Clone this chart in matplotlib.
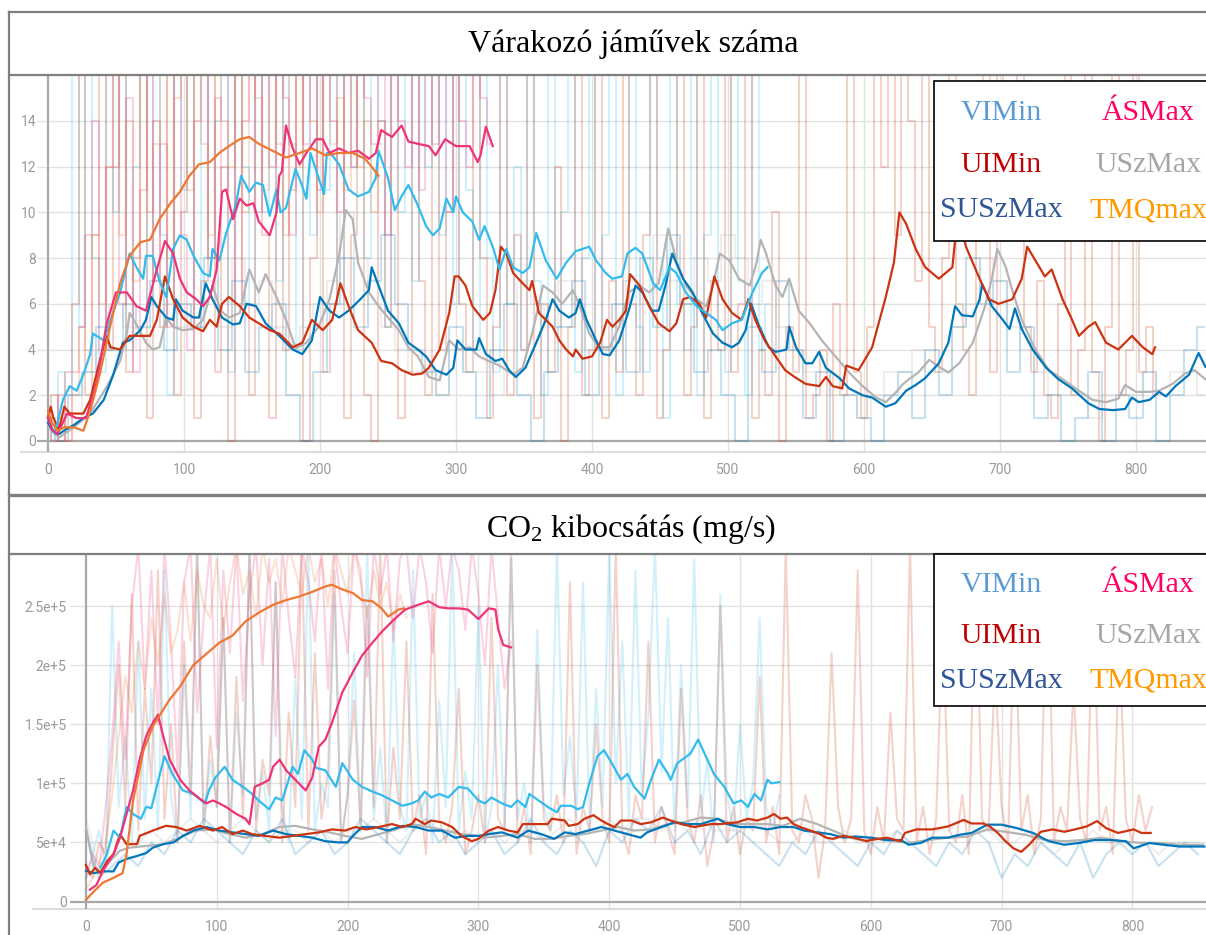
"""
Két TensorBoard-szerű panel: várakozó járművek száma és CO2 kibocsátás.
"""
import numpy as np
import matplotlib
matplotlib.use("Agg")
from matplotlib import pyplot as plt
from matplotlib.lines import Line2D
from matplotlib.patches import Rectangle

plt.rcParams['mathtext.fontset'] = 'custom'
plt.rcParams['mathtext.rm'] = 'Liberation Serif'
plt.rcParams['mathtext.it'] = 'Liberation Serif:italic'

##----------------------------------------- ADATOK -----------------------------------------##
names = ['VIMin', 'UIMin', 'SUSzMax', 'ÁSMax', 'USzMax', 'TMQmax']
legend_colors = ['#5b9bd5', '#c00000', '#2f5597', '#ff0066', '#a6a6a6', '#ff9900']
line_colors = ['#33bbee', '#cc3311', '#0077bb', '#ee3377', '#b4b4b4', '#ee7733']
titles = ['Várakozó jáművek száma', r'CO$_2$ kibocsátás (mg/s)']

x_ticks = [0, 100, 200, 300, 400, 500, 600, 700, 800]
top_yticks = [0, 2, 4, 6, 8, 10, 12, 14]
bot_yticks = [0, 5e4, 1e5, 1.5e5, 2e5, 2.5e5]
bot_ylabels = ['0', '5e+4', '1e+5', '1.5e+5', '2e+5', '2.5e+5']
CO2_UNIT = 1e4   # az alsó panel értékei 1e4 egységben

# simított görbék (lépés, érték) - felső panel
top_vi = [(0,1.0),(5,0.3),(11,1.8),(16,2.4),(21,2.2),(26,2.9),(31,3.8),(33,4.7),(41,4.4),(46,5.3),
          (53,6.5),(60,8.2),(65,7.6),(70,7.1),(72,8.1),(77,8.1),(82,7.0),(87,6.3),(92,8.4),(97,9.0),
          (102,8.8),(107,8.1),(114,7.35),(119,7.2),(121,8.4),(126,7.9),(131,9.1),(138,10.3),(142,11.6),(148,10.9),
          (153,11.3),(158,11.2),(163,9.85),(168,11.0),(171,10.0),(175,10.2),(182,11.9),(186,11.3),(190,10.6),(193,12.6),
          (199,11.5),(203,10.8),(205,12.6),(209,12.5),(214,12.1),(221,11.0),(228,10.7),(236,10.9),(241,11.5),(243,12.7),
          (250,11.5),(255,10.1),(260,10.7),(265,11.2),(272,10.3),(278,9.4),(283,9.0),(288,9.3),(293,10.6),(298,10.0),
          (300,10.7),(305,10.0),(312,9.6),(317,8.8),(321,9.4),(327,8.5),(332,7.5),(337,8.4),(342,7.6),(349,7.35),
          (354,7.6),(359,9.1),(366,7.9),(374,7.1),(381,7.8),(388,8.3),(398,8.5),(403,7.9),(410,7.35),(415,7.1),
          (422,7.2),(426,8.2),(432,8.45),(437,8.2),(445,6.9),(450,6.6),(457,7.6),(462,7.35),(469,6.5),(477,5.9),
          (484,5.6),(491,5.3),(496,4.85),(503,5.15),(510,5.3),(518,6.5),(525,7.35),(529,7.6)]
top_ui = [(0,1.0),(2,1.5),(4,1.0),(8,0.5),(12,1.5),(16,1.2),(26,1.2),(31,1.8),(38,3.5),(43,4.6),
          (46,4.1),(53,4.0),(60,4.6),(65,4.6),(75,4.6),(80,5.3),(86,7.2),(92,6.2),(99,5.4),(107,5.0),
          (114,4.8),(119,5.3),(124,5.0),(128,6.0),(133,6.3),(141,5.9),(148,5.4),(155,5.15),(163,4.85),(170,4.7),
          (180,4.1),(187,4.3),(194,5.3),(202,4.85),(209,5.3),(215,6.9),(221,5.9),(228,4.85),(238,4.3),(245,3.5),
          (253,3.4),(260,3.1),(268,2.9),(275,2.95),(280,3.2),(288,4.0),(295,5.6),(299,7.2),(302,7.2),(307,6.8),
          (312,5.9),(320,5.3),(325,5.6),(329,6.6),(333,8.5),(337,8.2),(342,7.35),(349,6.9),(354,6.6),(356,7.0),
          (361,5.6),(366,5.3),(371,5.0),(376,4.4),(381,4.0),(386,3.7),(388,4.0),(393,3.6),(400,3.7),(406,4.3),
          (411,5.3),(415,5.0),(420,5.3),(425,5.7),(428,7.3),(435,6.8),(442,5.9),(449,5.15),(457,4.8),(462,5.15),
          (467,6.2),(472,6.3),(479,6.0),(484,5.4),(490,7.2),(496,6.2),(503,5.6),(510,5.3),(515,6.2),(520,5.3),
          (527,4.4),(535,3.7),(542,3.1),(549,2.8),(557,2.5),(567,2.4),(572,2.8),(577,2.4),(584,2.3),(587,3.3),
          (596,3.1),(606,4.1),(616,6.3),(622,7.8),(626,10.0),(631,9.5),(638,8.4),(645,7.6),(655,7.1),(665,7.6),
          (667,8.8),(670,9.7),(675,8.5),(685,7.1),(692,6.2),(699,6.0),(709,6.2),(716,7.1),(720,8.5),(726,7.9),
          (733,7.2),(738,7.5),(746,6.2),(753,5.3),(758,4.6),(765,5.0),(770,5.2),(778,4.3),(787,4.0),(797,4.6),
          (805,4.1),(812,3.8),(814,4.1)]
top_su = [(0,0.8),(4,0.4),(8,0.3),(13,0.5),(19,0.7),(26,1.0),(33,1.2),(41,1.8),(48,2.9),(55,4.3),
          (60,4.4),(68,4.85),(72,5.3),(76,6.3),(80,5.9),(87,5.4),(92,5.3),(94,6.2),(99,5.7),(107,5.4),
          (111,5.4),(116,6.9),(121,6.2),(128,5.4),(136,5.1),(141,5.15),(146,6.0),(153,5.9),(160,5.15),(170,4.6),
          (180,4.0),(187,3.8),(194,4.4),(200,6.3),(207,5.7),(214,5.4),(221,5.7),(228,6.1),(236,6.6),(238,7.6),
          (243,6.8),(250,5.7),(258,5.15),(265,4.3),(272,4.0),(278,3.7),(285,3.1),(293,2.9),(298,3.2),(301,4.4),
          (307,4.0),(315,4.0),(317,4.5),(322,3.8),(329,3.5),(334,3.6),(339,3.1),(344,2.8),(351,3.2),(359,4.3),
          (366,5.3),(371,6.2),(376,5.7),(383,5.4),(388,5.6),(391,6.2),(396,5.3),(403,4.4),(408,3.8),(413,3.75),
          (420,4.4),(427,5.7),(432,6.8),(437,6.5),(444,5.7),(449,5.7),(454,6.8),(459,8.2),(467,7.1),(474,6.5),
          (481,5.6),(489,4.7),(496,4.3),(503,4.1),(508,4.3),(513,4.85),(517,6.0),(523,5.0),(530,4.1),(535,3.9),
          (543,4.0),(545,5.0),(550,4.1),(557,3.4),(562,3.4),(567,3.9),(572,3.2),(582,2.75),(589,2.3),(599,2.0),
          (606,1.9),(616,1.5),(623,1.65),(631,2.2),(638,2.45),(645,2.75),(655,3.4),(662,4.3),(667,5.9),(672,5.5),
          (680,5.45),(685,6.2),(687,6.85),(694,5.9),(702,5.3),(707,4.9),(711,5.8),(716,4.9),(724,4.0),(734,3.2),
          (743,2.7),(753,2.3),(765,1.65),(773,1.4),(783,1.35),(792,1.4),(797,1.9),(802,1.7),(810,1.8),(817,2.15),
          (822,1.95),(829,2.4),(839,2.9),(846,3.85),(851,3.25)]
top_as = [(0,1.0),(3,0.5),(7,0.3),(14,1.2),(21,1.0),(28,1.0),(36,2.6),(43,5.1),(50,6.5),(58,6.5),
          (65,5.9),(72,5.7),(80,7.5),(86,8.75),(92,8.2),(97,7.1),(102,6.5),(109,6.2),(114,5.9),(119,6.3),
          (124,7.5),(128,10.9),(131,11.0),(136,9.7),(141,10.6),(146,10.3),(151,10.4),(155,9.6),(163,9.0),(168,10.0),
          (170,11.6),(172,11.8),(175,13.8),(180,12.8),(185,12.1),(190,12.6),(197,13.2),(202,13.2),(207,12.6),(214,12.8),
          (221,12.6),(228,12.7),(236,12.35),(241,12.6),(245,13.6),(253,13.3),(260,13.8),(265,13.1),(272,13.0),(280,12.9),
          (285,12.5),(292,13.2),(300,12.9),(310,12.9),(316,12.2),(318,12.5),(322,13.75),(327,12.9)]
top_us = [(0,0.6),(4,0.4),(8,0.15),(19,0.6),(31,1.2),(43,2.35),(53,3.5),(58,4.7),(60,5.6),(65,5.1),
          (72,4.3),(77,4.0),(82,4.1),(87,5.4),(92,5.0),(99,4.85),(107,4.9),(114,5.3),(121,6.8),(127,5.7),
          (133,5.4),(141,5.6),(148,7.5),(155,6.5),(160,7.3),(168,6.3),(175,5.3),(182,4.05),(190,4.3),(199,5.0),
          (207,6.2),(214,8.1),(219,10.1),(224,9.7),(228,7.8),(236,6.5),(243,5.9),(250,5.4),(258,4.85),(265,4.1),
          (272,3.7),(280,2.8),(288,2.65),(295,4.4),(302,4.0),(310,4.1),(317,3.7),(324,3.5),(332,3.3),(342,2.9),
          (349,3.2),(356,4.7),(364,6.8),(371,6.5),(378,6.0),(386,6.6),(391,5.9),(398,4.7),(405,4.1),(413,4.1),
          (420,5.0),(427,6.5),(435,6.8),(442,6.5),(449,6.9),(456,9.3),(462,7.9),(469,6.8),(477,6.2),(484,5.9),
          (489,6.8),(494,8.2),(501,7.9),(508,7.1),(516,6.8),(521,7.8),(524,8.8),(528,8.2),(535,6.8),(540,6.3),
          (545,7.1),(552,5.7),(560,5.15),(569,4.4),(579,3.7),(589,3.0),(599,2.4),(609,1.9),(616,1.7),(623,2.1),
          (628,2.45),(633,2.7),(640,3.0),(648,3.55),(655,3.25),(662,3.0),(670,3.4),(680,4.3),(689,5.9),(694,7.1),
          (698,8.4),(704,7.65),(709,6.6),(716,5.3),(726,4.0),(736,3.1),(746,2.7),(758,2.2),(768,1.8),(778,1.7),
          (787,1.85),(792,2.45),(800,2.15),(810,2.15),(817,2.2),(827,2.5),(836,2.95),(843,3.1),(851,2.7)]
top_tmq = [(0,1.3),(3,0.8),(7,0.45),(12,0.6),(19,0.6),(26,0.45),(31,1.3),(38,2.9),(46,5.1),(53,6.9),
           (60,8.1),(68,8.7),(75,8.8),(82,9.7),(90,10.4),(97,10.9),(104,11.6),(111,12.1),(119,12.2),(126,12.6),
           (133,12.9),(141,13.2),(148,13.3),(155,13.0),(165,12.7),(175,12.4),(185,12.6),(194,12.8),(204,12.5),(214,12.6),
           (224,12.6),(233,12.35),(238,12.0),(243,11.6)]

# simított görbék - alsó panel (1e4 mg/s)
bot_vi = [(11,2.85),(16,4.0),(21,6.0),(26,5.4),(31,8.0),(36,7.4),(42,7.0),(46,8.0),(50,7.9),(54,9.7),
          (60,12.3),(66,10.8),(74,9.4),(82,9.1),(91,8.3),(94,9.4),(99,10.5),(106,11.4),(112,10.3),(120,9.7),
          (127,9.1),(132,8.55),(140,7.8),(145,8.8),(150,8.55),(158,11.4),(162,10.8),(167,12.8),(173,12.0),(176,11.3),
          (183,11.1),(191,9.7),(196,11.7),(204,10.3),(211,9.7),(219,9.3),(226,9.0),(234,8.55),(242,8.1),(249,8.3),
          (254,8.55),(259,9.3),(264,8.8),(270,9.1),(277,8.8),(285,9.7),(292,9.55),(300,8.55),(305,8.3),(310,8.8),
          (318,8.3),(325,8.0),(330,8.55),(336,8.0),(339,9.1),(346,8.55),(353,8.0),(360,7.55),(363,8.1),(371,8.1),
          (376,7.8),(380,8.0),(384,9.7),(391,12.3),(396,12.8),(402,11.7),(409,10.3),(414,10.8),(419,9.7),(427,8.7),
          (432,10.3),(438,12.0),(445,10.8),(447,10.3),(452,11.7),(457,12.1),(462,12.5),(468,13.7),(473,12.5),(480,10.8),
          (488,9.7),(495,8.3),(501,8.55),(506,8.0),(511,9.1),(516,8.55),(521,10.3),(524,10.0),(530,10.1)]
bot_ui = [(0,3.1),(3,2.3),(7,2.85),(11,2.4),(16,3.4),(21,4.0),(26,5.7),(31,4.85),(39,4.85),(41,5.55),
          (51,6.0),(61,6.4),(69,6.3),(77,6.0),(87,6.4),(97,6.0),(104,6.3),(112,5.7),(120,6.0),(127,5.7),
          (137,5.55),(148,5.4),(158,5.55),(168,5.7),(178,5.85),(188,6.1),(198,6.0),(206,6.3),(214,6.1),(224,6.3),
          (234,6.55),(242,6.3),(249,6.55),(252,7.0),(259,6.55),(264,6.85),(272,6.7),(280,6.3),(287,5.55),(295,5.1),
          (300,5.3),(308,6.0),(315,6.3),(323,6.0),(330,5.85),(334,6.55),(353,6.55),(356,7.0),(366,6.85),(369,6.4),
          (376,6.55),(381,7.0),(388,7.3),(394,6.85),(399,6.55),(404,6.3),(409,6.85),(417,6.85),(424,6.55),(432,6.7),
          (441,7.1),(447,6.85),(455,6.55),(465,6.3),(470,6.4),(478,6.55),(485,6.55),(498,6.7),(506,7.0),(513,6.85),
          (521,7.1),(526,7.4),(531,7.0),(536,7.1),(541,6.55),(546,6.3),(554,6.0),(561,5.7),(566,5.4),(571,5.3),
          (579,5.55),(587,5.4),(597,5.1),(600,5.2),(612,5.4),(623,5.1),(626,5.8),(635,6.1),(647,6.1),(659,6.35),
          (671,6.9),(677,6.6),(686,6.6),(691,6.35),(697,5.8),(703,5.1),(709,4.5),(715,4.2),(721,4.8),(730,5.9),
          (739,6.1),(748,5.9),(756,6.1),(765,6.35),(773,6.8),(780,6.2),(789,5.8),(801,6.1),(807,5.8),(814,5.8)]
bot_su = [(0,2.6),(6,2.4),(13,2.55),(21,2.55),(25,3.3),(31,3.6),(39,3.85),(46,4.1),(51,4.55),(59,4.85),
          (67,5.0),(74,5.55),(82,6.0),(92,6.3),(102,6.0),(112,5.85),(122,5.7),(132,5.55),(143,6.0),(153,5.7),
          (163,5.55),(173,5.4),(183,5.1),(193,5.0),(200,5.0),(204,5.55),(211,6.3),(221,6.3),(231,6.0),(242,6.4),
          (252,6.3),(262,6.0),(272,6.0),(282,5.4),(292,5.55),(300,5.55),(308,5.7),(318,5.85),(330,5.4),(338,6.0),
          (348,5.7),(358,5.3),(366,5.85),(374,5.7),(384,6.0),(394,6.3),(404,6.0),(414,5.7),(424,5.4),(429,5.85),
          (440,6.3),(450,6.7),(460,6.55),(470,6.55),(483,7.0),(490,6.55),(500,6.3),(511,6.3),(521,6.1),(531,6.3),
          (541,6.3),(549,6.0),(559,5.85),(569,5.7),(579,5.4),(588,5.5),(600,5.4),(612,5.2),(623,5.2),(629,4.8),
          (638,4.95),(647,5.4),(659,5.4),(668,5.65),(677,5.8),(689,6.5),(700,6.5),(712,6.2),(724,5.8),(736,5.1),
          (748,4.8),(759,4.95),(771,5.2),(783,5.2),(795,5.1),(801,4.5),(813,4.95),(824,4.8),(836,4.65),(848,4.65),
          (855,4.65)]
bot_as = [(3,1.0),(8,1.4),(13,2.6),(21,4.0),(26,5.4),(31,7.4),(36,9.4),(41,12.0),(46,14.0),(51,15.1),
          (55,15.8),(59,14.0),(64,12.0),(72,10.3),(79,9.4),(87,8.7),(92,8.3),(97,8.55),(102,8.3),(107,8.0),
          (115,7.4),(122,7.0),(125,6.55),(129,9.7),(135,10.0),(140,10.3),(143,11.4),(148,12.0),(153,11.1),(160,10.3),
          (168,9.4),(173,10.5),(178,13.1),(183,13.7),(188,15.1),(196,17.7),(204,19.4),(211,20.8),(219,21.9),(226,22.8),
          (234,23.7),(244,24.7),(254,25.1),(262,25.4),(270,24.9),(277,24.8),(285,24.8),(292,24.7),(300,23.9),(308,24.8),
          (313,24.7),(315,23.1),(319,21.7),(325,21.5)]
bot_us = [(0,6.3),(3,4.5),(6,2.85),(11,2.55),(18,3.4),(26,4.3),(33,4.55),(46,4.7),(59,4.85),(72,5.4),
          (84,6.0),(97,6.1),(110,5.7),(122,5.4),(135,5.7),(148,6.3),(160,6.4),(173,6.1),(186,5.85),(198,5.55),
          (211,5.3),(224,5.7),(237,6.1),(249,6.55),(262,6.3),(275,6.0),(287,5.7),(300,5.55),(305,5.4),(318,5.55),
          (330,5.7),(343,5.3),(356,5.3),(369,5.55),(381,5.7),(394,6.0),(407,6.3),(419,6.0),(432,6.1),(445,6.55),
          (457,6.7),(470,7.1),(483,7.0),(495,6.55),(508,6.55),(521,6.55),(533,6.4),(546,7.0),(559,6.55),(571,6.0),
          (584,5.4),(597,5.1),(600,5.4),(617,5.1),(629,4.95),(644,5.2),(659,5.4),(674,5.5),(689,6.1),(703,5.9),
          (718,5.65),(733,5.2),(748,5.1),(762,5.2),(777,5.4),(792,5.1),(807,4.95),(822,4.95),(836,4.8),(854,4.8)]
bot_tmq = [(0,0.15),(6,0.85),(13,1.6),(21,2.0),(28,2.4),(31,4.0),(36,8.55),(44,12.8),(51,14.8),(56,15.7),
           (64,17.1),(72,18.2),(82,20.0),(92,20.95),(102,21.9),(112,22.5),(122,23.7),(133,24.5),(143,25.1),(153,25.5),
           (163,25.8),(173,26.2),(183,26.65),(188,26.8),(196,26.4),(204,26.1),(211,25.5),(219,25.4),(226,24.8),(231,24.1),
           (239,24.7),(243,24.8)]

# nyers (simítatlan) értékek, RAW_STEP lépésközzel 0-tól
RAW_STEP = 5
RAW_STEP_WIDE = 10
top_vi_raw = [1,0,3,2,16,5,16,8,3,16,10,16,4,12,16,6,16,9,2,16,
              11,16,5,16,8,14,16,3,16,12,6,16,10,16,7,16,13,4,16,9,
              16,11,16,6,16,12,16,8,16,14,5,16,10,16,7,16,12,16,9,16,
              6,16,11,4,16,8,3,16,6,12,4,16,7,2,16,5,10,16,3,8,
              16,4,9,16,2,7,16,5,3,16,8,1,16,6,4,16,2,9,16,5,
              3,16,7,2,16,4,6]
top_ui_raw = [1,2,0,3,6,16,2,9,16,4,12,16,3,8,16,1,14,5,16,2,
              10,16,1,7,16,3,12,0,16,6,2,16,9,1,16,4,11,16,0,8,
              16,3,6,16,1,9,16,2,0,14,5,16,1,3,16,7,2,16,4,10,
              16,6,3,16,8,1,5,16,2,9,4,16,1,6,3,12,0,5,16,2,
              4,16,1,7,3,16,6,2,9,16,1,4,8,16,2,5,16,1,7,4,
              16,3,6,16,1,4,2,10,0,5,3,16,1,2,4,0,6,2,16,3,
              1,5,16,12,16,9,16,14,7,16,5,3,8,16,6,4,2,10,16,3,
              16,12,9,16,5,3,7,2,1,6,16,2,4,16,3,0,5,16,2,4,
              16,3,5,2]
top_as_raw = [1,0,2,0,3,5,9,14,4,12,16,6,15,3,11,16,7,13,5,16,
              9,4,14,16,8,15,11,16,6,14,16,10,16,12,16,15,9,16,13,16,
              11,16,14,10,16,12,16,15,13,16,9,16,14,12,16,11,16,13,16,10,
              16,14,12,16,15,13]
top_tmq_raw = [1,0,1,0,2,5,4,9,6,12,16,9,14,7,16,10,13,16,8,15,
               16,11,16,13,9,16,14,12,16,10,16,15,11,16,13,9,16,12,16,14,
               10,16,13,15,11,16,12,14,10,13]
top_su_raw = [1,0,2,3,5,4,6,5,7,4,6,5,8,4,7,3,5,6,2,0,
              3,6,8,5,7,9,6,4,3,2,5,3,1,4,6,2,0,3,5,7,
              2,4,6,3,8,5,9,6,3,4,2,0,5,3,7,4,1,3,0,2,
              1,0,2,3,1,4,2,5,8,6,7,3,5,1,2,0,1,3,0,2,
              1,3,0,2,4,5]
top_us_raw = [0,1,1,3,4,6,5,4,5,6,5,6,7,5,8,6,7,5,4,5,
              6,7,10,8,6,5,4,3,3,2,4,3,3,2,4,7,6,5,7,6,
              4,4,5,7,6,9,7,6,8,7,9,8,6,7,5,4,3,3,2,2,
              1,2,3,3,4,3,3,5,6,8,7,5,4,3,2,2,2,1,2,2,
              2,3,2,3,3,2]

bot_vi_raw = [2,4,6,3,25,8,14,5,22,7,18,6,28,9,5,20,7,30,6,12,
              8,24,5,16,9,30,7,11,6,27,8,5,19,7,30,6,10,8,26,5,
              9,21,6,30,7,13,5,24,8,6,28,7,9,5,17,8,30,6,11,7,
              25,5,8,20,6,29,7,10,5,23,8,6,30,9,14,7,27,6,18,8,
              30,10,22,7,28,9,16,30,11,24,6,20,8,29,7,12,5,26,9,6,
              15,7,10,24,8,6,9]
bot_ui_raw = [3,2,5,4,12,20,8,26,6,18,10,28,7,15,5,22,9,30,6,14,
              8,24,5,19,7,30,6,12,9,27,5,16,8,30,6,21,7,11,28,5,
              9,17,6,25,8,30,5,13,7,22,6,9,4,26,7,5,8,18,4,6,
              9,5,24,7,6,30,5,8,4,20,7,6,9,5,27,4,8,6,15,7,
              5,30,6,4,9,7,22,5,8,6,4,18,7,5,9,3,6,25,5,8,
              4,7,6,19,5,8,4,30,6,5,9,7,2,6,21,8,5,7,28,6,
              4,8,5,16,7,6,30,5,8,4,7,24,6,5,9,4,30,7,6,20,
              8,5,26,6,9,4,7,30,5,8,6,18,7,5,27,6,8,4,22,7,
              5,9,6,8]
bot_as_raw = [2,4,3,8,14,22,12,25,30,18,28,15,30,22,11,27,30,16,24,30,
              13,28,21,30,17,26,30,20,29,14,30,24,19,30,27,22,30,18,30,25,
              21,30,28,19,30,26,30,22,29,30,24,30,27,21,30,25,30,28,23,30,
              26,20,30,24,18,22]
bot_tmq_raw = [1,2,3,5,9,14,19,16,22,18,24,20,26,21,23,27,22,28,25,24,
               29,23,27,30,26,28,24,30,27,29,25,30,28,26,30,27,29,25,30,28,
               26,30,27,24,28,25,27,23,26,24]
bot_su_raw = [6,2,3,4,3,5,4,6,5,7,6,5,4,6,5,7,4,5,6,4,
              5,7,6,5,4,6,7,5,6,4,5,6,4,5,7,5,4,6,5,3,
              6,5,7,6,8,5,6,4,7,5,6,5,4,3,5,4,6,5,4,3,
              5,4,6,5,4,3,5,4,6,5,2,4,3,5,4,3,5,2,4,5,
              4,5,3,4,5,4]
bot_us_raw = [7,3,4,5,5,6,5,6,7,6,5,6,7,6,5,6,6,5,6,5,
              6,6,7,6,5,6,7,6,5,6,5,6,5,6,6,5,6,7,6,6,
              7,6,7,7,6,7,6,7,6,6,6,7,6,5,5,6,5,5,6,5,
              5,5,6,5,5,6,6,7,6,6,5,5,6,5,4,5,5,6,5,5,
              5,5,4,5,5,5]
##------------------------------------------------------------------------------------------##

W, H = 1206, 935
fig = plt.figure(figsize=(W / 100, H / 100), dpi=100)

def fx(px):
    return px / W

def fy(py):
    return 1 - py / H

def draw_panel(ax, smooth, raws, steps, scale, xlim, ylim, yticks, ylabels,
               grid_x0, base_y, lab_pad_y, lab_pad_x, raw_style):
    ax.set_xlim(*xlim)
    ax.set_ylim(*ylim)
    for s in ax.spines.values():
        s.set_visible(False)
    # rácsvonalak
    for yv in yticks[1:]:
        ax.hlines(yv, grid_x0, xlim[1], color='#e2e2e2', lw=1.0, zorder=0.5)
    for xv in x_ticks[1:]:
        ax.vlines(xv, base_y, ylim[1], color='#e2e2e2', lw=1.0, zorder=0.5)
    ax.hlines(0, grid_x0, xlim[1], color='#a8a8a8', lw=1.6, zorder=0.6)
    ax.hlines(base_y, xlim[0] + 0.35 * (grid_x0 - xlim[0]), xlim[1], color='#dcdcdc', lw=1.6, zorder=0.6)
    ax.vlines(0, base_y, ylim[1], color='#a8a8a8', lw=1.6, zorder=0.6)
    # nyers görbék halványan
    for k, vals in enumerate(raws):
        xs = np.arange(len(vals)) * steps[k]
        ax.plot(xs, np.array(vals) * scale, color=line_colors[k], alpha=0.22, lw=1.5,
                drawstyle=raw_style, zorder=1)
    # simított görbék
    for k in [4, 2, 1, 0, 3, 5]:
        xs, ys = zip(*smooth[k])
        ax.plot(xs, np.array(ys) * scale, color=line_colors[k], lw=1.6, zorder=2)
    ax.set_xticks(x_ticks)
    ax.set_yticks(yticks)
    ax.set_yticklabels(ylabels)
    ax.tick_params(axis='y', length=0, pad=lab_pad_y, labelsize=10, labelcolor='#9a9a9a')
    ax.tick_params(axis='x', length=0, pad=lab_pad_x, labelsize=10, labelcolor='#9a9a9a')
    for t in ax.get_xticklabels() + ax.get_yticklabels():
        t.set_fontfamily('Roboto')

# felső panel: 0 -> px 48, 1.36 px/lépés; 0 -> py 441, 22.86 px/db
ax1 = fig.add_axes([fx(11), fy(494), (1206 - 11) / W, (494 - 76) / H])
draw_panel(ax1,
           [top_vi, top_ui, top_su, top_as, top_us, top_tmq],
           [top_vi_raw, top_ui_raw, top_su_raw, top_as_raw, top_us_raw, top_tmq_raw],
           [RAW_STEP, RAW_STEP, RAW_STEP_WIDE, RAW_STEP, RAW_STEP_WIDE, RAW_STEP],
           1.0,
           ((11 - 48) / 1.36, (1206 - 48) / 1.36),
           (-(494 - 441) / 22.86, (441 - 76) / 22.86),
           top_yticks, [str(v) for v in top_yticks],
           -8, -0.48, -18, -22, 'steps-mid')

# alsó panel: 0 -> px 86, 1.308 px/lépés; 0 -> py 901.5, 59.1 px / 5e4
ax2 = fig.add_axes([fx(11), 0, (1206 - 11) / W, (935 - 555) / H])
draw_panel(ax2,
           [bot_vi, bot_ui, bot_su, bot_as, bot_us, bot_tmq],
           [bot_vi_raw, bot_ui_raw, bot_su_raw, bot_as_raw, bot_us_raw, bot_tmq_raw],
           [RAW_STEP, RAW_STEP, RAW_STEP_WIDE, RAW_STEP, RAW_STEP_WIDE, RAW_STEP],
           CO2_UNIT,
           ((11 - 86) / 1.308, (1206 - 86) / 1.308),
           (-(935 - 901.5) / 59.1 * 5e4, (901.5 - 555) / 59.1 * 5e4),
           bot_yticks, bot_ylabels,
           -12, -6.3e3, -40, -11, 'default')

# keretek
frame = dict(color='#7f7f7f', lw=1.6, transform=fig.transFigure, zorder=10)
fig.add_artist(Line2D([fx(9), fx(1206)], [fy(12), fy(12)], **frame))
fig.add_artist(Line2D([fx(9), fx(9)], [fy(12), fy(935)], **frame))
fig.add_artist(Line2D([fx(9), fx(1206)], [fy(75), fy(75)], **frame))
fig.add_artist(Line2D([fx(9), fx(1206)], [fy(495), fy(495)], color='#7f7f7f', lw=2.4,
                      transform=fig.transFigure, zorder=10))
fig.add_artist(Line2D([fx(9), fx(1206)], [fy(554), fy(554)], **frame))

# címek
fig.text(fx(633), fy(52), titles[0], ha='center', va='baseline', fontsize=23,
         family='Liberation Serif', color='black')
fig.text(fx(631), fy(537), titles[1], ha='center', va='baseline', fontsize=23,
         family='Liberation Serif', color='black')

# jelmagyarázat dobozok
for box_top, box_bot, rows in [(81, 241, [120, 172, 217]), (554, 706, [592, 643, 688])]:
    fig.add_artist(Rectangle((fx(934), fy(box_bot)), (1212 - 934) / W, (box_bot - box_top) / H,
                             transform=fig.transFigure, facecolor='white', edgecolor='black',
                             lw=1.2, zorder=11))
    for i, name in enumerate(names):
        col, row = divmod(i, 3)
        fig.text(fx(1001 if col == 0 else 1148), fy(rows[row]), name, ha='center', va='baseline',
                 fontsize=21.5, family='Liberation Serif', color=legend_colors[i], zorder=12)

fig.savefig('out.png', dpi=100)
